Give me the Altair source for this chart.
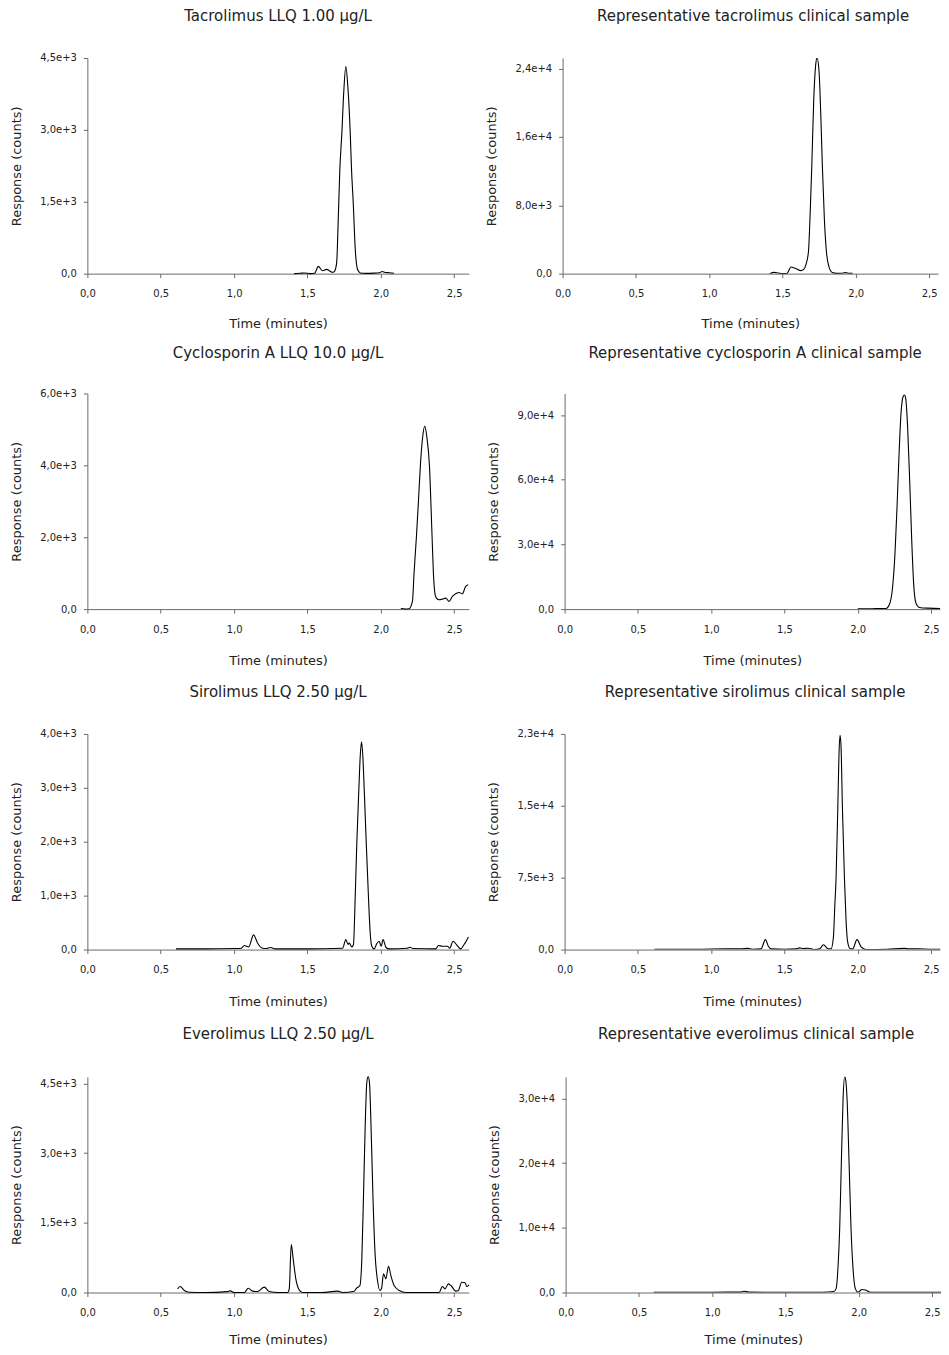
import altair as alt
import pandas as pd

# ---------------- data ----------------
x_ticks = [0.0, 0.5, 1.0, 1.5, 2.0, 2.5]

# Panel 1: Tacrolimus LLQ 1.00 µg/L
tac_llq_t = [1.41, 1.45, 1.48, 1.52, 1.55, 1.574, 1.603, 1.632, 1.652, 1.671, 1.683, 1.699, 1.712,
             1.721, 1.735, 1.748, 1.762, 1.776, 1.792, 1.801, 1.812, 1.826, 1.842, 1.86, 1.90, 1.95,
             1.99, 2.01, 2.03, 2.06, 2.09]
tac_llq_r = [0, 8, 15, 0, 10, 152, 62, 90, 55, 28, 43, 216, 1300,
             2160, 2940, 3800, 4320, 3890, 2940, 2160, 1510, 520, 86, 15, 5, 10,
             20, 45, 25, 20, 10]
tac_llq_yticks = [0, 1500, 3000, 4500]
tac_llq_ymax = 4500

# Panel 2: Representative tacrolimus clinical sample
tac_cs_t = [1.413, 1.444, 1.47, 1.50, 1.53, 1.558, 1.59, 1.626, 1.645, 1.659, 1.677, 1.690, 1.700,
            1.713, 1.727, 1.736, 1.750, 1.763, 1.772, 1.786, 1.800, 1.818, 1.840, 1.87, 1.90, 1.93,
            1.955, 1.977]
tac_cs_r = [0, 150, 80, 0, 20, 780, 600, 350, 500, 1000, 2530, 7580, 12640,
            20220, 24520, 25280, 23510, 17700, 12640, 6320, 2530, 760, 130, 30, 40, 120,
            50, 30]
tac_cs_yticks = [0, 8000, 16000, 24000]
tac_cs_ymax = 25240

# Panel 3: Cyclosporin A LLQ 10.0 µg/L
csa_llq_t = [2.137, 2.17, 2.193, 2.216, 2.227, 2.243, 2.257, 2.270, 2.286, 2.300, 2.314, 2.332, 2.350,
             2.359, 2.371, 2.380, 2.398, 2.421, 2.443, 2.466, 2.488, 2.511, 2.534, 2.556, 2.579, 2.597]
csa_llq_r = [18, 5, 10, 213, 1000, 2000, 3000, 3991, 4797, 5093, 4797, 3991, 2000,
             1000, 398, 305, 259, 278, 305, 213, 352, 426, 463, 426, 630, 676]
csa_llq_yticks = [0, 2000, 4000, 6000]
csa_llq_ymax = 6000

# Panel 4: Representative cyclosporin A clinical sample
csa_cs_t = [2.000, 2.10, 2.193, 2.215, 2.238, 2.254, 2.268, 2.281, 2.295, 2.309, 2.318, 2.327, 2.340,
            2.354, 2.368, 2.381, 2.397, 2.420, 2.477, 2.590, 2.60]
csa_cs_r = [154, 200, 309, 2007, 10500, 25940, 47560, 70720, 90780, 98500, 99280, 97740, 84610,
            59900, 32120, 12040, 2780, 770, 460, 300, 300]
csa_cs_yticks = [0, 30000, 60000, 90000]
csa_cs_ymax = 100000

# Panel 5: Sirolimus LLQ 2.50 µg/L
sir_llq_t = [0.604, 0.80, 1.00, 1.05, 1.07, 1.085, 1.10, 1.133, 1.16, 1.194, 1.22, 1.25, 1.28, 1.50,
             1.74, 1.762, 1.778, 1.785, 1.803, 1.814, 1.826, 1.837, 1.851, 1.860, 1.869, 1.878, 1.887,
             1.901, 1.916, 1.928, 1.939, 1.955, 1.973, 1.989, 2.003, 2.016, 2.035, 2.057, 2.18, 2.20,
             2.22, 2.375, 2.393, 2.42, 2.455, 2.470, 2.493, 2.516, 2.545, 2.568, 2.598]
sir_llq_r = [12, 12, 19, 25, 74, 62, 49, 272, 123, 25, 19, 37, 12, 12,
             25, 185, 93, 123, 49, 93, 988, 1988, 2994, 3580, 3852, 3580, 2994,
             1988, 988, 309, 62, 12, 111, 154, 62, 185, 43, 12, 25, 43,
             19, 12, 74, 62, 62, 25, 154, 93, 12, 93, 235]
sir_llq_yticks = [0, 1000, 2000, 3000, 4000]
sir_llq_ymax = 4000

# Panel 6: Representative sirolimus clinical sample
sir_cs_t = [0.613, 0.90, 1.10, 1.20, 1.25, 1.28, 1.34, 1.370, 1.39, 1.409, 1.50, 1.58, 1.602, 1.63,
            1.659, 1.685, 1.704, 1.74, 1.766, 1.795, 1.818, 1.834, 1.843, 1.852, 1.864, 1.872, 1.879,
            1.886, 1.895, 1.909, 1.920, 1.931, 1.947, 1.965, 1.995, 2.023, 2.056, 2.20, 2.318, 2.35,
            2.408, 2.50, 2.60]
sir_cs_r = [35, 35, 70, 70, 120, 35, 70, 1040, 348, 70, 35, 70, 174, 104,
            139, 70, 0, 70, 500, 104, 70, 1321, 4450, 7475, 14950, 20440, 22360,
            21140, 14950, 7475, 3060, 800, 104, 70, 1040, 278, 0, 35, 120, 70,
            70, 35, 35]
sir_cs_yticks = [0, 7500, 15000, 22500]
sir_cs_ymax = 22500

# Panel 7: Everolimus LLQ 2.50 µg/L
eve_llq_t = [0.615, 0.633, 0.661, 0.695, 0.80, 0.956, 0.974, 1.001, 1.070, 1.097, 1.126, 1.160, 1.206,
             1.240, 1.300, 1.365, 1.376, 1.390, 1.403, 1.421, 1.444, 1.467, 1.60, 1.705, 1.740, 1.819,
             1.835, 1.858, 1.871, 1.883, 1.894, 1.905, 1.914, 1.923, 1.935, 1.948, 1.962, 1.978, 1.994,
             2.005, 2.019, 2.035, 2.053, 2.069, 2.091, 2.126, 2.171, 2.30, 2.398, 2.420, 2.438, 2.461,
             2.484, 2.511, 2.529, 2.552, 2.575, 2.586, 2.602]
eve_llq_r = [79, 129, 43, 5, 0, 20, 36, 0, 0, 93, 29, 21, 115,
             21, 0, 0, 72, 1031, 723, 294, 57, 0, 0, 29, 0, 29,
             93, 150, 723, 2156, 3589, 4520, 4649, 4520, 3445, 1941, 795, 258, 43,
             79, 401, 294, 566, 365, 150, 43, 0, 0, 0, 129, 79, 186,
             129, 29, 43, 222, 208, 129, 165]
eve_llq_yticks = [0, 1500, 3000, 4500]
eve_llq_ymax = 4642

# Panel 8: Representative everolimus clinical sample
eve_cs_t = [0.602, 0.80, 1.00, 1.19, 1.216, 1.25, 1.40, 1.60, 1.75, 1.829, 1.845, 1.859, 1.870, 1.881,
            1.893, 1.904, 1.913, 1.920, 1.934, 1.947, 1.961, 1.977, 1.995, 2.005, 2.022, 2.045, 2.079,
            2.20, 2.40, 2.60]
eve_cs_r = [30, 30, 50, 60, 206, 60, 30, 30, 40, 154, 566, 4166, 9978, 19956,
            29985, 33380, 32455, 29985, 19956, 9978, 3652, 566, 51, 200, 460, 380, 50,
            30, 30, 30]
eve_cs_yticks = [0, 10000, 20000, 30000]
eve_cs_ymax = 33333

# ---------------- styling ----------------
FONT = "DejaVu Sans"
TXT = "#222222"
AXC = "#6a6a6a"
H = 216
W_LEFT, X_MAX_LEFT = 382, 2.6       # left column: full 0-2.6 min axis
W_RIGHT, X_MAX_RIGHT = 376, 2.561   # right column: same px/min, trimmed to fit the window
RIGHT_TITLE_X = 190.8               # title centred on the (untrimmed) right plot

X_LABEL = "replace(format(datum.value, '.1f'), '.', ',')"
Y_LABEL = "datum.value == 0 ? '0,0' : replace(format(datum.value, '.1e'), '.', ',')"


def panel(t, r, title, ymax, yticks, right, gap, xpad):
    w = W_RIGHT if right else W_LEFT
    xmax = X_MAX_RIGHT if right else X_MAX_LEFT
    cx = RIGHT_TITLE_X if right else w / 2
    df = pd.DataFrame({"t": t, "r": r})
    line = (
        alt.Chart(df)
        .mark_line(color="black", strokeWidth=1.1, interpolate="monotone", clip=right)
        .encode(
            x=alt.X(
                "t:Q",
                scale=alt.Scale(domain=[0, xmax], nice=False, zero=False),
                axis=alt.Axis(values=x_ticks, title="Time (minutes)", labelExpr=X_LABEL,
                              labelPadding=11, titlePadding=xpad, labelFlush=False),
            ),
            y=alt.Y(
                "r:Q",
                scale=alt.Scale(domain=[0, ymax], nice=False),
                axis=alt.Axis(values=yticks, title="Response (counts)", labelExpr=Y_LABEL,
                              labelPadding=7, titlePadding=16),
            ),
        )
    )
    head = (
        alt.Chart(pd.DataFrame({"label": [title]}))
        .mark_text(font=FONT, fontSize=15, color=TXT, align="center", baseline="middle")
        .encode(text="label:N", x=alt.value(cx), y=alt.value(-gap))
    )
    return alt.layer(line, head).properties(width=w, height=H)


p1 = panel(tac_llq_t, tac_llq_r, "Tacrolimus LLQ 1.00 µg/L", tac_llq_ymax, tac_llq_yticks, False, 42, 18.5)
p2 = panel(tac_cs_t, tac_cs_r, "Representative tacrolimus clinical sample", tac_cs_ymax, tac_cs_yticks, True, 42, 18.5)
p3 = panel(csa_llq_t, csa_llq_r, "Cyclosporin A LLQ 10.0 µg/L", csa_llq_ymax, csa_llq_yticks, False, 41, 20.5)
p4 = panel(csa_cs_t, csa_cs_r, "Representative cyclosporin A clinical sample", csa_cs_ymax, csa_cs_yticks, True, 41, 20.5)
p5 = panel(sir_llq_t, sir_llq_r, "Sirolimus LLQ 2.50 µg/L", sir_llq_ymax, sir_llq_yticks, False, 42, 21)
p6 = panel(sir_cs_t, sir_cs_r, "Representative sirolimus clinical sample", sir_cs_ymax, sir_cs_yticks, True, 42, 21)
p7 = panel(eve_llq_t, eve_llq_r, "Everolimus LLQ 2.50 µg/L", eve_llq_ymax, eve_llq_yticks, False, 43, 16.5)
p8 = panel(eve_cs_t, eve_cs_r, "Representative everolimus clinical sample", eve_cs_ymax, eve_cs_yticks, True, 43, 16.5)

HS = 17
row1 = alt.hconcat(p1, p2, spacing=HS)
row2 = alt.hconcat(p3, p4, spacing=HS)
row3 = alt.hconcat(p5, p6, spacing=HS)
row4 = alt.hconcat(p7, p8, spacing=HS)

chart = (
    alt.vconcat(row1, alt.vconcat(row2, alt.vconcat(row3, row4, spacing=18.5), spacing=17), spacing=15)
    .properties(padding={"left": 2.5, "top": 0, "right": 0, "bottom": 0})
    .configure_view(stroke=None)
    .configure_axis(
        grid=False, domainColor=AXC, tickColor=AXC, tickSize=4, domainWidth=1,
        labelFont=FONT, labelFontSize=10, labelColor=TXT,
        titleFont=FONT, titleFontSize=13, titleFontWeight="normal", titleColor=TXT,
    )
)

chart.save("out.html", embed_options={"renderer": "svg", "actions": False})
